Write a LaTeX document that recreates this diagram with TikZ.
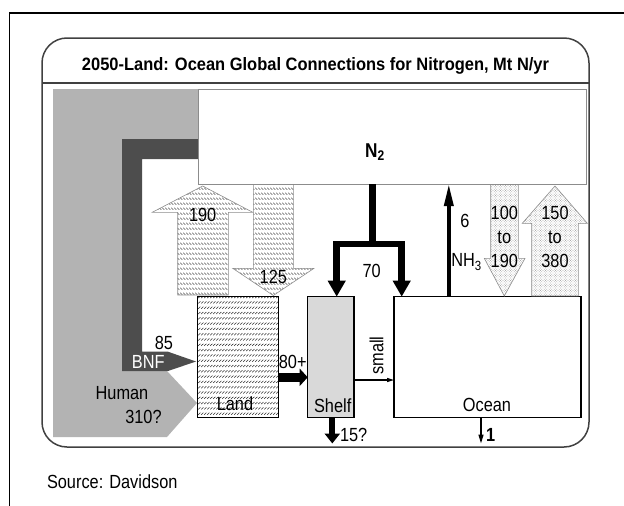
\documentclass[tikz,border=0pt]{standalone}
\usepackage{fontspec}
\setmainfont[FakeStretch=0.86]{Liberation Sans}
\usetikzlibrary{arrows.meta,patterns}
\definecolor{humangray}{HTML}{B3B3B3}
\definecolor{bnfgray}{HTML}{4D4D4D}
\definecolor{shelfgray}{HTML}{D9D9D9}
\definecolor{edgegray}{HTML}{8C8C8C}
\definecolor{hatchgray}{HTML}{555555}
\pgfdeclarepatternformonly{rowback}{\pgfqpoint{-1pt}{-1pt}}{\pgfqpoint{4pt}{6pt}}{\pgfqpoint{3pt}{5pt}}{%
  \pgfsetlinewidth{0.55pt}%
  \pgfpathmoveto{\pgfqpoint{0.2pt}{3.2pt}}\pgfpathlineto{\pgfqpoint{2.4pt}{1.2pt}}\pgfusepath{stroke}}
\pgfdeclarepatternformonly{rowfwd}{\pgfqpoint{-1pt}{-1pt}}{\pgfqpoint{4pt}{6pt}}{\pgfqpoint{3pt}{5.3pt}}{%
  \pgfsetlinewidth{0.55pt}%
  \pgfpathmoveto{\pgfqpoint{0.2pt}{1.2pt}}\pgfpathlineto{\pgfqpoint{2.4pt}{3.2pt}}\pgfusepath{stroke}}
\pgfdeclarepatternformonly{densedots}{\pgfqpoint{-0.5pt}{-0.5pt}}{\pgfqpoint{3pt}{3pt}}{\pgfqpoint{2.5pt}{2.5pt}}{%
  \pgfpathcircle{\pgfqpoint{0.5pt}{0.5pt}}{0.45pt}\pgfusepath{fill}%
  \pgfpathcircle{\pgfqpoint{1.75pt}{1.75pt}}{0.45pt}\pgfusepath{fill}}
\begin{document}
\begin{tikzpicture}[x=1pt,y=-1pt,
  every node/.style={inner sep=0pt,outer sep=0pt},
  lbl/.style={font=\fontsize{19}{20}\selectfont},
  box/.style={draw=black,line width=1.3pt,rectangle},
  hatcharrow/.style={draw=edgegray,line width=0.6pt,pattern=rowback,pattern color=hatchgray},
  dotarrow/.style={draw=edgegray,line width=0.6pt,pattern=densedots,pattern color=gray},
  flow70/.style={line width=6.5pt,-{Triangle[width=17pt,length=16pt]}},
]
\useasboundingbox (0,0) rectangle (624,506);
% outer frame
\draw[line width=1.5pt] (9.5,506) -- (9.5,13) -- (624,13);
% rounded panel
\draw[line width=1.5pt,draw=black!75,rounded corners=25pt] (42,38) rectangle (589,447);
\draw[line width=1.2pt,draw=black!75] (42,83) -- (589,83);
\node[font=\bfseries] (title) at (315.5,66) {\resizebox{467pt}{13pt}{2050-Land: Ocean Global Connections for Nitrogen, Mt N/yr}};
% human and BNF shapes
\fill[humangray] (53,89) -- (200,89) -- (200,139) -- (122,139) -- (122,371) -- (167,371) -- (197,403) -- (167,437) -- (53,437) -- cycle;
\fill[bnfgray] (122,139) -- (200,139) -- (200,159) -- (142,159) -- (142,351.7) -- (168,351.7) -- (196,361.5) -- (168,371) -- (122,371) -- cycle;
% N2 box
\node[draw=edgegray,line width=1pt,fill=white,minimum width=388pt,minimum height=95pt] (n2) at (392,136.5) {};
\node[font=\fontsize{20}{21}\selectfont\bfseries] (n2lbl) at (375,152) {N\textsubscript{2}};
% boxes
\node[box,pattern=rowfwd,pattern color=black!80,minimum width=81pt,minimum height=120.6pt] (land) at (237.8,357) {};
\node[box,fill=shelfgray,minimum width=46.3pt,minimum height=121pt] (shelf) at (330.85,357.2) {};
\node[box,fill=white,minimum width=187pt,minimum height=121pt] (ocean) at (487.5,357.2) {};
% big block arrows
\draw[hatcharrow] (177.7,295) -- (177.7,212.3) -- (152.3,212.3) -- (202.7,186) -- (252.7,212.3) -- (228.3,212.3) -- (228.3,295) -- cycle;
\draw[hatcharrow] (253.3,184.5) -- (253.3,268.3) -- (232.7,268.3) -- (273.3,295.5) -- (314,268.3) -- (293.3,268.3) -- (293.3,184.5) -- cycle;
\draw[dotarrow] (490.7,184.5) -- (490.7,258.3) -- (484.3,258.3) -- (504.3,296) -- (525,258.3) -- (518.3,258.3) -- (518.3,184.5) -- cycle;
\draw[dotarrow] (531.7,296) -- (531.7,223.3) -- (522.3,223.3) -- (555,186) -- (587.3,223.3) -- (578.3,223.3) -- (578.3,296) -- cycle;
% 70 branch
\coordinate (split) at (372.3,244);
\draw[line width=6.5pt] (n2.south -| split) -- (split);
\draw[flow70] (split) -- (336.7,244) -- (336.7,296.7);
\draw[flow70] (split) -- (401.7,244) -- (401.7,296.7);
% NH3
\draw[line width=3.5pt,-{Triangle[width=9pt,length=22pt]}] (ocean.north -| 448.8,0) -- (n2.south -| 448.8,0);
% 80+
\draw[line width=8.5pt,-{Triangle[width=17pt,length=8pt]}] (land.east |- 0,377.3) -- (shelf.west |- 0,377.3);
% small
\draw[line width=1.1pt,-{Triangle[width=4pt,length=7pt]}] (shelf.east |- 0,380) -- (ocean.west |- 0,380);
% 15?
\coordinate (sink15) at (332.3,443.5);
\draw[line width=6pt,-{Triangle[width=15pt,length=10pt]}] (shelf.south -| sink15) -- (sink15);
\coordinate (sink1) at (481,443.5);
\draw[line width=1.4pt,-{Triangle[width=5pt,length=9pt]}] (ocean.south -| sink1) -- (sink1);
% labels
\node[lbl] (l190) at (202.7,215) {190};
\node[lbl] (l125) at (273.3,277) {125};
\node[lbl] (l85) at (164,342.5) {85};
\node[lbl,text=white] (lbnf) at (148.3,361.7) {BNF};
\node[lbl] (lhuman) at (122,393.5) {Human};
\node[lbl] (l310) at (143.5,417) {310?};
\node[lbl] (lland) at (235,404) {Land};
\node[lbl] (l80) at (292.7,361.7) {80+};
\node[lbl,rotate=90] (lsmall) at (376.5,355.5) {small};
\node[lbl] (lshelf) at (332.7,406) {Shelf};
\node[lbl] (locean) at (487,405) {Ocean};
\node[lbl,anchor=west] (l15) at (340,435) {15?};
\node[lbl,anchor=west,font=\fontsize{19}{20}\selectfont\bfseries] (l1) at (486,435) {1};
\node[lbl] (l70) at (371.7,271) {70};
\node[lbl] (l6) at (465,221) {6};
\node[lbl] (lnh3) at (466.5,262) {NH\textsubscript{3}};
\node[lbl,align=center] (l100) at (504.3,236.5) {100\\[4pt]to\\[4pt]190};
\node[lbl,align=center] (l150) at (555,236.5) {150\\[4pt]to\\[4pt]380};
\node[lbl,anchor=west] (source) at (47,482) {Source: Davidson};
\end{tikzpicture}
\end{document}
